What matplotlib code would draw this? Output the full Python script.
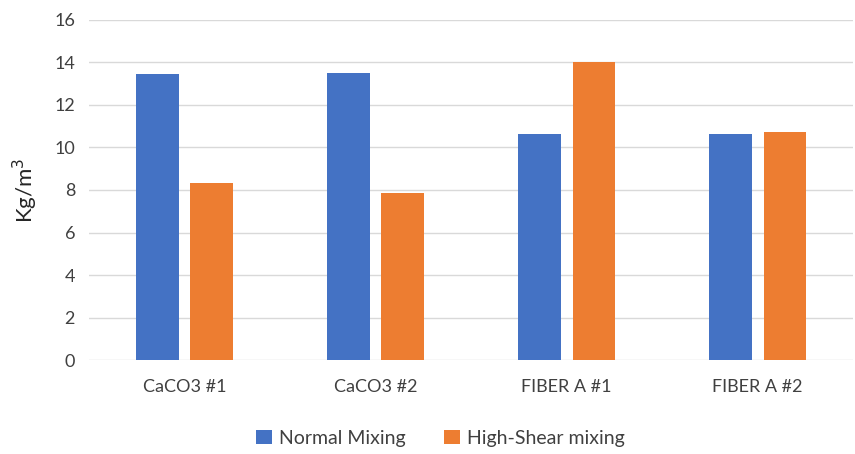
import numpy as np
import matplotlib.pyplot as plt

plt.rcParams['font.family'] = ['Lato', 'DejaVu Sans']

categorias = ["CaCO3 #1", "CaCO3 #2", "FIBER A #1", "FIBER A #2"]
normal = [13.45, 13.5, 10.62, 10.62]
high_shear = [8.32, 7.85, 14.02, 10.72]

azul = "#4472C4"
naranja = "#ED7D31"
gris = "#404040"

fig = plt.figure(figsize=(8.55, 4.54), dpi=100)
ax = fig.add_axes([0.104, 0.207, 0.894, 0.749])

x = np.arange(len(categorias))
ancho = 0.223
sep = 0.062

ax.bar(x - (ancho + sep) / 2, normal, ancho, color=azul, label="Normal Mixing", zorder=3)
ax.bar(x + (ancho + sep) / 2, high_shear, ancho, color=naranja, label="High-Shear mixing", zorder=3)

ax.set_xlim(-0.5, len(categorias) - 0.5)
ax.set_ylim(0, 16)
ax.set_yticks(np.arange(0, 17, 2))
ax.set_xticks(x)
ax.set_xticklabels(categorias)

ax.grid(axis="y", color="#D9D9D9", linewidth=1, zorder=0)
for s in ax.spines.values():
    s.set_visible(False)
ax.tick_params(length=0, labelsize=13, colors=gris, pad=10)
ax.tick_params(axis="x", pad=14)

ax.set_ylabel("Kg/m$^3$", fontsize=16, color="#262626", labelpad=10)

fig.legend(loc="center", bbox_to_anchor=(0.515, 0.035), ncol=2, frameon=False,
           fontsize=14, handlelength=0.8, handleheight=0.8, columnspacing=2.0,
           handletextpad=0.35, labelcolor=gris)

fig.savefig("out.png", dpi=100)
